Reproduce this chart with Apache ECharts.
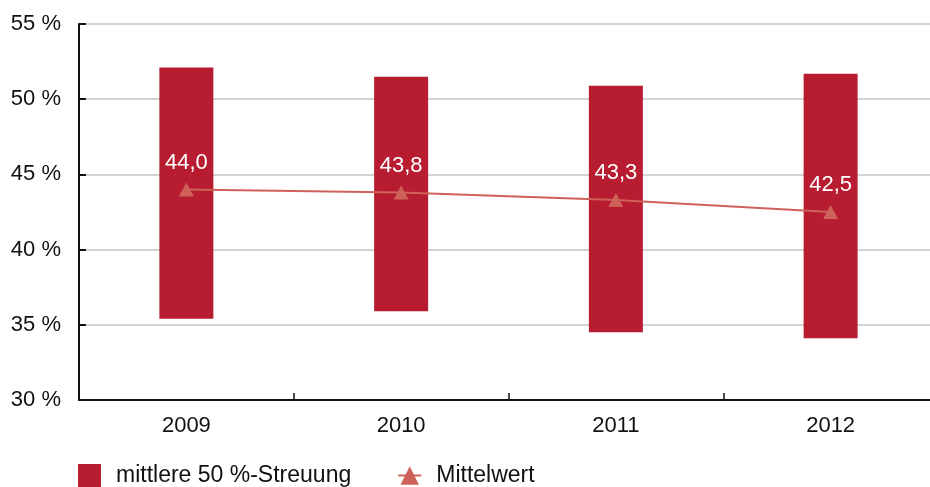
<!DOCTYPE html>
<html>
<head>
<meta charset="utf-8">
<script src="https://cdn.jsdelivr.net/npm/echarts@6/dist/echarts.min.js"></script>
<style>
html,body{margin:0;padding:0;background:#fff;overflow:hidden;width:930px;height:487px;}
#chart{width:938px;height:487px;}
</style>
</head>
<body>
<div id="chart"></div>
<script>
const categories = ['2009', '2010', '2011', '2012'];
const lowerQuartile = [35.4, 35.9, 34.5, 34.1];
const upperQuartile = [52.1, 51.5, 50.9, 51.7];
const meanValues = [44.0, 43.8, 43.3, 42.5];
const yTicks = [30, 35, 40, 45, 50, 55];
const seriesNames = ['mittlere 50 %-Streuung', 'Mittelwert'];

const barColor = '#B71C31';
const lineColor = '#CF6258';
const fontFam = '"Liberation Sans", Arial, sans-serif';

const spread = upperQuartile.map((u, i) => +(u - lowerQuartile[i]).toFixed(2));

const chart = echarts.init(document.getElementById('chart'));
chart.setOption({
  animation: false,
  textStyle: { fontFamily: fontFam },
  grid: { left: 79, top: 24, bottom: 87, right: 0, containLabel: false },
  legend: {
    data: [
      { name: seriesNames[0], icon: 'rect' },
      { name: seriesNames[1] }
    ],
    left: 73,
    top: 459,
    itemWidth: 23,
    itemHeight: 23,
    itemGap: 46,
    textStyle: { fontSize: 23, color: '#111', fontFamily: fontFam, padding: [0, 0, 0, 10] }
  },
  xAxis: {
    type: 'category',
    data: categories,
    boundaryGap: true,
    axisLine: { lineStyle: { color: '#111', width: 2 } },
    axisTick: { show: true, inside: true, length: 7, lineStyle: { color: '#111', width: 1.5 } },
    axisLabel: { fontSize: 22, color: '#111', margin: 15, fontFamily: fontFam }
  },
  yAxis: {
    type: 'value',
    min: yTicks[0],
    max: yTicks[yTicks.length - 1],
    interval: 5,
    axisLine: { show: true, lineStyle: { color: '#111', width: 2 } },
    axisTick: { show: true, inside: true, length: 7, lineStyle: { color: '#111', width: 2 } },
    splitLine: { lineStyle: { color: '#c4c4c4', width: 1.5 } },
    axisLabel: {
      fontSize: 22, color: '#111', margin: 18, fontFamily: fontFam,
      formatter: v => v + ' %'
    }
  },
  series: [
    {
      name: 'base',
      type: 'bar',
      stack: 'range',
      data: lowerQuartile,
      barWidth: 54,
      itemStyle: { color: 'transparent' },
      silent: true
    },
    {
      name: seriesNames[0],
      type: 'bar',
      stack: 'range',
      data: spread,
      barWidth: 54,
      itemStyle: { color: barColor }
    },
    {
      name: seriesNames[1],
      type: 'line',
      data: meanValues,
      symbol: 'triangle',
      symbolSize: [15, 14],
      lineStyle: { color: lineColor, width: 2 },
      itemStyle: { color: lineColor },
      z: 5,
      label: {
        show: true,
        position: 'top',
        distance: 9,
        color: '#fff',
        fontSize: 22,
        fontFamily: fontFam,
        formatter: p => p.value.toFixed(1).replace('.', ',')
      }
    }
  ]
});
</script>
</body>
</html>
